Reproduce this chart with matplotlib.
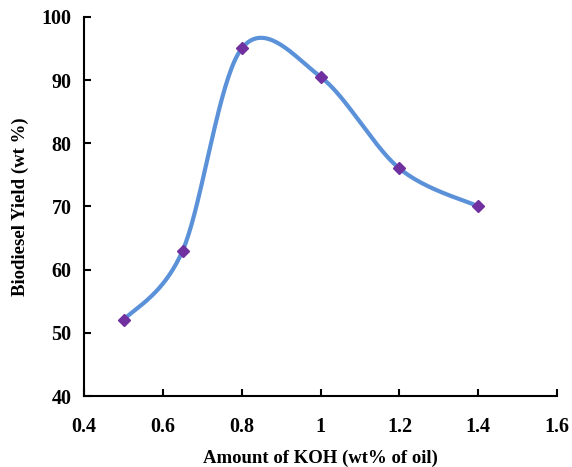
import numpy as np
import matplotlib
matplotlib.use("Agg")
import matplotlib.pyplot as plt

koh = [0.5, 0.65, 0.8, 1.0, 1.2, 1.4]
yield_pct = [52, 63, 95, 90.5, 76, 70]
xticks = [0.4, 0.6, 0.8, 1.0, 1.2, 1.4, 1.6]
xticklabels = ["0.4", "0.6", "0.8", "1", "1.2", "1.4", "1.6"]
yticks = [40, 50, 60, 70, 80, 90, 100]

plt.rcParams['font.family'] = ['Liberation Serif', 'DejaVu Serif']
plt.rcParams['font.weight'] = 'bold'

fig = plt.figure(figsize=(5.72, 4.67), dpi=100)
ax = fig.add_axes([0.147, 0.152, 0.827, 0.812])

# Excel-like smoothed line (Catmull-Rom as cubic Bezier segments)
P = np.column_stack([koh, yield_pct]).astype(float)
n = len(P)
curve = []
t = np.linspace(0, 1, 40)[:, None]
for i in range(n - 1):
    p0 = P[i - 1] if i > 0 else P[i]
    p1 = P[i]
    p2 = P[i + 1]
    p3 = P[i + 2] if i + 2 < n else P[i + 1]
    c1 = p1 + (p2 - p0) / 6
    c2 = p2 - (p3 - p1) / 6
    seg = (1 - t) ** 3 * p1 + 3 * (1 - t) ** 2 * t * c1 + 3 * (1 - t) * t ** 2 * c2 + t ** 3 * p2
    curve.append(seg)
curve = np.vstack(curve)
ax.plot(curve[:, 0], curve[:, 1], color='#5A91D8', lw=3, solid_capstyle='round', zorder=2)
ax.plot(koh, yield_pct, linestyle='none', marker='D', markersize=6.5, color='#7030A0', zorder=3)

ax.set_xlim(0.4, 1.6)
ax.set_ylim(40, 100)
ax.set_xticks(xticks)
ax.set_xticklabels(xticklabels)
ax.set_yticks(yticks)
for s in ['top', 'right']:
    ax.spines[s].set_visible(False)
for s in ['left', 'bottom']:
    ax.spines[s].set_linewidth(1.5)
ax.tick_params(direction='in', length=5, width=1.5, labelsize=14.5, pad=9)
ax.tick_params(axis='x', pad=15)
ax.set_xlabel('Amount of KOH (wt% of oil)', fontsize=13.5, fontweight='bold', labelpad=9)
ax.set_ylabel('Biodiesel Yield (wt %)', fontsize=13.5, fontweight='bold', labelpad=9)

fig.savefig('out.png', dpi=100)
